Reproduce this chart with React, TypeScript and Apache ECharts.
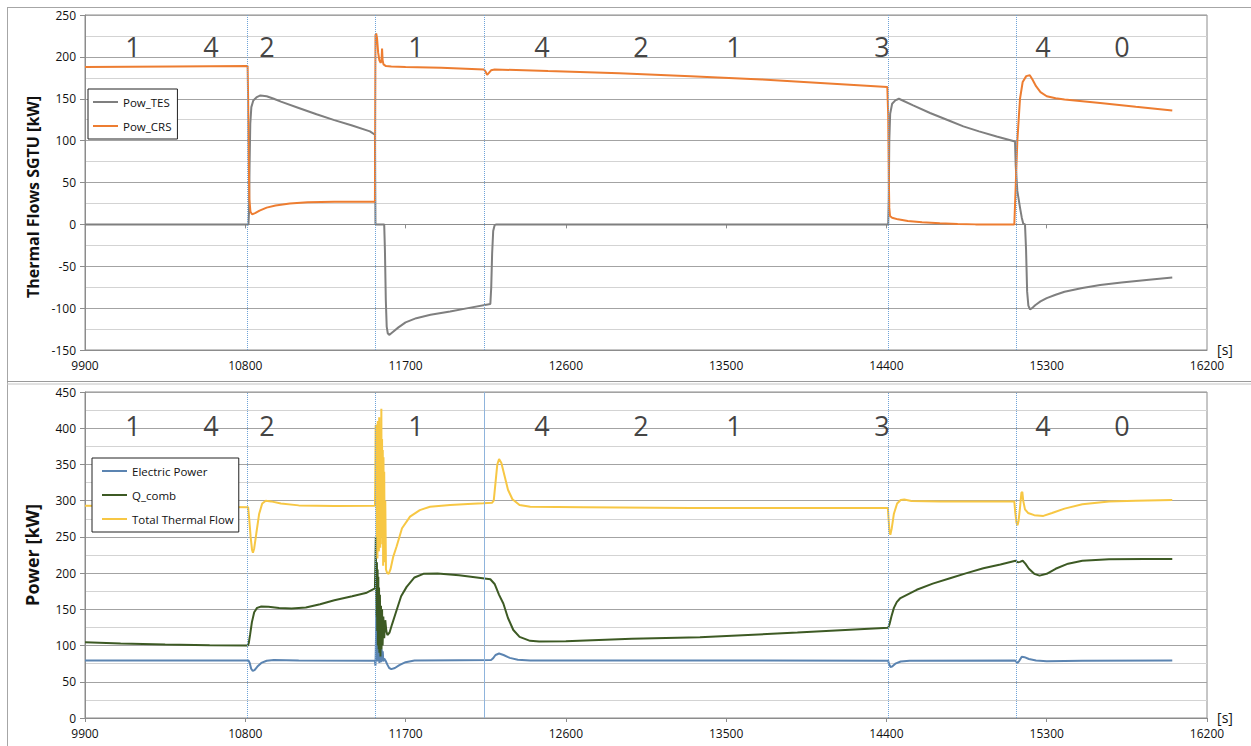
import React, { useEffect, useRef } from "react";
import * as echarts from "echarts";

// ---------- data ----------
const xMin = 9900;
const xMax = 16200;
const xStep = 900;

const phaseNames = ["1", "4", "2", "1", "4", "2", "1", "3", "4", "0"];
const phaseTimes = [10170, 10608, 10922, 11759, 12466, 13022, 13544, 14375, 15279, 15723];

const switchTimes = [10813, 11528, 12139, 14410, 15128];

const powTES: [number, number][] = [
  [9900, 0], [10818, 0], [10821, 15], [10824, 70], [10828, 120], [10834, 140], [10845, 148], [10865, 152],
  [10885, 154], [10920, 153], [10960, 150], [11000, 146.5], [11100, 139], [11200, 131.5], [11300, 124.5],
  [11400, 118], [11500, 111], [11528, 107], [11531, 0], [11580, 0], [11584, -30], [11589, -90], [11594, -122],
  [11600, -130], [11608, -132], [11625, -129], [11660, -123], [11700, -117], [11760, -112], [11840, -108],
  [11950, -104], [12050, -100], [12176, -95], [12181, -75], [12186, -35], [12192, -8], [12200, -1], [12210, 0],
  [14410, 0], [14413, 30], [14416, 100], [14421, 132], [14432, 144], [14450, 148], [14470, 150], [14550, 142],
  [14645, 133], [14750, 124], [14832, 117], [14920, 111], [15019, 105], [15122, 99], [15126, 70], [15135, 40],
  [15150, 20], [15160, 8], [15168, 1], [15178, 0], [15184, -30], [15190, -80], [15197, -97], [15206, -101.5],
  [15218, -100], [15235, -96.5], [15265, -92], [15300, -88], [15350, -84], [15400, -80.5], [15500, -76],
  [15600, -72.5], [15720, -69.5], [15860, -66.5], [16005, -63.5],
];

const powCRS: [number, number][] = [
  [9900, 188], [10400, 188.5], [10813, 189], [10816, 150], [10819, 80], [10823, 30], [10829, 15], [10838, 12],
  [10855, 13.5], [10880, 16.5], [10920, 20], [10970, 22.5], [11050, 25], [11150, 26.5], [11300, 27],
  [11528, 27], [11531, 226], [11535, 228], [11540, 222], [11546, 205], [11553, 196], [11560, 193], [11565, 195],
  [11568, 210], [11571, 196], [11576, 191], [11590, 189], [11620, 188.5], [11700, 188], [11900, 187],
  [12140, 185], [12150, 182], [12158, 178.5], [12168, 181], [12180, 184], [12200, 185], [12500, 183],
  [12900, 180.5], [13300, 177], [13700, 173], [14100, 168], [14405, 164], [14410, 130], [14413, 60],
  [14416, 20], [14420, 10], [14432, 8], [14465, 6], [14520, 4], [14600, 2.5], [14700, 1.2], [14800, 0.5],
  [14900, 0], [15118, 0], [15125, 40], [15135, 100], [15150, 150], [15165, 170], [15185, 177], [15205, 178],
  [15220, 173], [15240, 165], [15265, 158], [15300, 153], [15350, 150.5], [15400, 149], [15600, 145],
  [15800, 140.5], [16005, 136],
];

const electricPower: [number, number][] = [
  [9900, 79.5], [10818, 79.5], [10825, 76], [10833, 68], [10842, 65], [10852, 66], [10868, 71], [10890, 76],
  [10920, 79], [10960, 80], [11100, 79.5], [11528, 79], [11531, 72], [11534, 110], [11536, 150], [11538, 85],
  [11541, 125], [11543, 78], [11546, 140], [11548, 82], [11551, 110], [11553, 76], [11556, 118], [11558, 80],
  [11561, 100], [11563, 77], [11566, 95], [11569, 80], [11572, 92], [11575, 78], [11580, 82], [11588, 79],
  [11597, 74], [11608, 69], [11620, 67.5], [11640, 69], [11665, 73], [11700, 77], [11750, 79.5],
  [12000, 79.8], [12180, 80], [12190, 82], [12205, 87], [12225, 89], [12250, 87], [12285, 83], [12330, 80.5],
  [12400, 79.5], [13500, 79.5], [14410, 79], [14414, 75], [14422, 70.5], [14432, 71], [14450, 75],
  [14480, 78], [14530, 79], [15120, 79.5], [15128, 78], [15136, 76], [15146, 79], [15160, 84.5],
  [15175, 84], [15200, 81.5], [15240, 79.5], [15300, 78.5], [15500, 79], [16005, 79.5],
];

const qComb: [number, number][] = [
  [9900, 104.5], [10100, 103], [10350, 101.5], [10600, 100.5], [10815, 100], [10820, 104], [10827, 115],
  [10837, 132], [10850, 146], [10866, 152], [10890, 154], [10930, 153.5], [10990, 152], [11060, 151],
  [11140, 152.5], [11220, 157], [11300, 162.5], [11400, 168], [11482, 173], [11528, 179], [11531, 220],
  [11533, 250], [11535, 170], [11537, 140], [11539, 215], [11541, 120], [11543, 205], [11545, 100],
  [11547, 195], [11549, 95], [11551, 180], [11553, 90], [11556, 170], [11559, 85], [11562, 155], [11565, 95],
  [11568, 150], [11571, 100], [11575, 140], [11580, 110], [11586, 135], [11592, 120], [11598, 114.5],
  [11610, 118], [11625, 130], [11650, 149], [11675, 168], [11706, 181], [11750, 194], [11800, 199],
  [11880, 199.5], [12000, 197], [12100, 194], [12176, 191.5], [12200, 185], [12225, 170], [12249, 158],
  [12275, 138], [12305, 121.5], [12340, 112], [12399, 106.5], [12450, 105.5], [12600, 106], [12970, 109.5],
  [13353, 111.3], [13900, 118], [14410, 124.7], [14418, 130], [14428, 140], [14442, 152], [14458, 160],
  [14476, 165], [14570, 177], [14660, 185.5], [14757, 193], [14850, 200], [14944, 206.6], [15040, 212],
  [15125, 217], [15138, 215], [15150, 215.5], [15165, 217], [15180, 213], [15200, 206], [15230, 199],
  [15260, 196.5], [15300, 199], [15350, 206], [15420, 213], [15500, 217], [15650, 219], [15850, 219.5],
  [16005, 219.5],
];

const totalThermal: [number, number][] = [
  [9900, 293], [10400, 292], [10816, 291], [10822, 275], [10830, 250], [10838, 232], [10843, 228],
  [10850, 234], [10862, 255], [10878, 282], [10895, 296], [10915, 300], [10945, 299], [11000, 296],
  [11100, 293.5], [11300, 292.5], [11528, 293], [11530, 330], [11532, 404], [11534, 360], [11536, 405],
  [11538, 250], [11540, 400], [11542, 220], [11544, 410], [11546, 260], [11548, 395], [11550, 230],
  [11552, 415], [11554, 280], [11556, 390], [11558, 235], [11560, 400], [11562, 300], [11564, 427],
  [11566, 250], [11568, 385], [11570, 240], [11572, 370], [11574, 210], [11576, 360], [11578, 230],
  [11580, 340], [11583, 215], [11586, 300], [11590, 205], [11597, 200], [11605, 199], [11615, 205],
  [11630, 222], [11650, 237], [11680, 262], [11725, 278], [11780, 287], [11837, 291.7], [11950, 294],
  [12050, 295.5], [12136, 296.3], [12185, 297], [12195, 300], [12205, 325], [12215, 350], [12225, 357.5],
  [12238, 352], [12255, 335], [12275, 315], [12300, 302], [12340, 294], [12400, 291.5], [12700, 291],
  [13300, 290], [14000, 290], [14408, 290], [14412, 275], [14417, 258], [14422, 253], [14430, 262],
  [14442, 282], [14460, 296], [14480, 301], [14500, 301.5], [14540, 299.5], [14700, 299], [15118, 299],
  [15123, 285], [15130, 270], [15136, 266], [15142, 272], [15150, 290], [15158, 311], [15163, 312],
  [15168, 300], [15178, 288], [15195, 283], [15230, 280], [15281, 279], [15330, 283], [15400, 289],
  [15500, 295], [15650, 299], [15800, 300], [16005, 301],
];

// ---------- styling ----------
const FONT = "Open Sans";
const C_TES = "#7f7f7f";
const C_CRS = "#ed7d31";
const C_EL = "#5b84b1";
const C_Q = "#3d5a24";
const C_TT = "#f7c744";
const C_SWITCH = "#6fa3d8";
const C_AXIS = "#8c8c8c";
const C_GRID = "#a3a3a3";
const C_MINOR = "#d3d3d3";

export default function App() {
  const ref = useRef<HTMLDivElement>(null);

  useEffect(() => {
    if (!ref.current) return;
    const chart = echarts.init(ref.current, undefined, { renderer: "svg" });

    const xLabel = {
      fontFamily: FONT,
      fontSize: 12,
      color: "#111",
      margin: 9,
      formatter: (v: number) => String(v),
    };

    const xBase = (gridIndex: number) => ({
      type: "value",
      gridIndex,
      min: xMin,
      max: xMax,
      interval: xStep,
      splitLine: { show: false },
    });

    const yBase = (gridIndex: number, min: number, max: number) => ({
      type: "value",
      gridIndex,
      min,
      max,
      interval: 50,
      axisLine: { show: true, lineStyle: { color: C_AXIS } },
      axisTick: { show: true, length: 5, lineStyle: { color: C_AXIS } },
      axisLabel: { fontFamily: FONT, fontSize: 12, color: "#111", margin: 9 },
      splitLine: { show: true, lineStyle: { color: C_GRID, width: 1 } },
      minorTick: { show: false, splitNumber: 2 },
      minorSplitLine: { show: true, lineStyle: { color: C_MINOR, width: 1 } },
    });

    const lineSeries = (name: string, data: [number, number][], color: string, xi: number, yi: number, width = 2) => ({
      name,
      type: "line",
      xAxisIndex: xi,
      yAxisIndex: yi,
      data,
      showSymbol: false,
      symbol: "none",
      lineStyle: { color, width },
      itemStyle: { color },
      z: 3,
    });

    const phaseSeries = (xi: number, yi: number, y: number) => ({
      name: "phases" + xi,
      type: "scatter",
      xAxisIndex: xi,
      yAxisIndex: yi,
      symbolSize: 1,
      itemStyle: { color: "rgba(0,0,0,0)" },
      silent: true,
      z: 5,
      data: phaseTimes.map((t, i) => ({ name: phaseNames[i], value: [t, y] })),
      label: {
        show: true,
        position: "inside",
        formatter: "{b}",
        fontFamily: FONT,
        fontSize: 27,
        color: "#111",
      },
    });

    const switchMark = (bottom: boolean) => ({
      silent: true,
      symbol: ["none", "none"],
      label: { show: false },
      itemStyle: { color: C_SWITCH },
      lineStyle: { type: "dotted", color: C_SWITCH, width: 1, opacity: 1 },
      data: switchTimes.map((t) =>
        bottom && t === 12139
          ? { xAxis: t, lineStyle: { type: "solid", color: "#8fb4dc", width: 1 } }
          : { xAxis: t, lineStyle: { type: "dotted", color: C_SWITCH, width: 1 } }
      ),
    });

    const tes = lineSeries("Pow_TES", powTES, C_TES, 0, 0);
    (tes as any).markLine = switchMark(false);
    const el = lineSeries("Electric Power", electricPower, C_EL, 2, 1);
    (el as any).markLine = switchMark(true);

    const legendBase = {
      orient: "vertical",
      icon: "rect",
      itemWidth: 25,
      itemHeight: 2,
      itemGap: 12,
      backgroundColor: "#fff",
      borderColor: "#222",
      borderWidth: 1,
      borderRadius: 0,
      textStyle: { fontFamily: FONT, fontSize: 11.5, color: "#111" },
      selectedMode: false,
      z: 10,
    };

    chart.setOption({
      animation: false,
      backgroundColor: "#fff",
      grid: [
        { left: 85, top: 15, width: 1122, height: 335, show: true, borderColor: C_AXIS, borderWidth: 1, backgroundColor: "transparent" },
        { left: 85, top: 392, width: 1122, height: 326, show: true, borderColor: C_AXIS, borderWidth: 1, backgroundColor: "transparent" },
      ],
      xAxis: [
        {
          ...xBase(0),
          position: "bottom",
          axisLine: { show: true, onZero: true, lineStyle: { color: C_AXIS } },
          axisTick: { show: true, length: 4, lineStyle: { color: C_AXIS } },
          axisLabel: { show: false },
        },
        {
          ...xBase(0),
          position: "bottom",
          axisLine: { show: true, onZero: false, lineStyle: { color: C_AXIS } },
          axisTick: { show: false },
          axisLabel: xLabel,
        },
        {
          ...xBase(1),
          position: "bottom",
          axisLine: { show: true, onZero: false, lineStyle: { color: C_AXIS } },
          axisTick: { show: true, length: 4, lineStyle: { color: C_AXIS } },
          axisLabel: xLabel,
        },
      ],
      yAxis: [yBase(0, -150, 250), yBase(1, 0, 450)],
      legend: [
        { ...legendBase, data: ["Pow_TES", "Pow_CRS"], left: 88, top: 89, padding: [7, 6, 7, 5] },
        {
          ...legendBase,
          data: ["Electric Power", "Q_comb", "Total Thermal Flow"],
          left: 92,
          top: 458,
          padding: [7, 5, 7, 10],
        },
      ],
      series: [
        tes,
        lineSeries("Pow_CRS", powCRS, C_CRS, 0, 0),
        el,
        lineSeries("Q_comb", qComb, C_Q, 2, 1),
        lineSeries("Total Thermal Flow", totalThermal, C_TT, 2, 1),
        phaseSeries(0, 0, 212),
        phaseSeries(2, 1, 404),
      ],
      graphic: [
        { type: "line", shape: { x1: 7, y1: 7.5, x2: 1251, y2: 7.5 }, style: { stroke: "#a6a6a6", lineWidth: 1 } },
        { type: "line", shape: { x1: 7.5, y1: 7, x2: 7.5, y2: 746 }, style: { stroke: "#a6a6a6", lineWidth: 1 } },
        { type: "line", shape: { x1: 7, y1: 381.5, x2: 1251, y2: 381.5 }, style: { stroke: "#9a9a9a", lineWidth: 1 } },
        { type: "line", shape: { x1: 7, y1: 384, x2: 1251, y2: 384 }, style: { stroke: "#c4c4c4", lineWidth: 1 } },
        {
          type: "text",
          x: 33,
          y: 197,
          rotation: Math.PI / 2,
          style: {
            text: "Thermal Flows SGTU [kW]",
            fontFamily: FONT,
            fontSize: 16,
            fontWeight: "bold",
            fill: "#111",
            align: "center",
            verticalAlign: "middle",
          },
        },
        {
          type: "text",
          x: 32,
          y: 555,
          rotation: Math.PI / 2,
          style: {
            text: "Power [kW]",
            fontFamily: FONT,
            fontSize: 18,
            fontWeight: "bold",
            fill: "#111",
            align: "center",
            verticalAlign: "middle",
          },
        },
        {
          type: "text",
          x: 1225,
          y: 349,
          style: { text: "[s]", fontFamily: FONT, fontSize: 14, fill: "#111", align: "center", verticalAlign: "middle" },
        },
        {
          type: "text",
          x: 1225,
          y: 717,
          style: { text: "[s]", fontFamily: FONT, fontSize: 14, fill: "#111", align: "center", verticalAlign: "middle" },
        },
      ],
    });

    return () => chart.dispose();
  }, []);

  return (
    <div
      ref={ref}
      style={{ position: "absolute", left: 0, top: 0, width: 1251, height: 746, background: "#fff" }}
    />
  );
}
